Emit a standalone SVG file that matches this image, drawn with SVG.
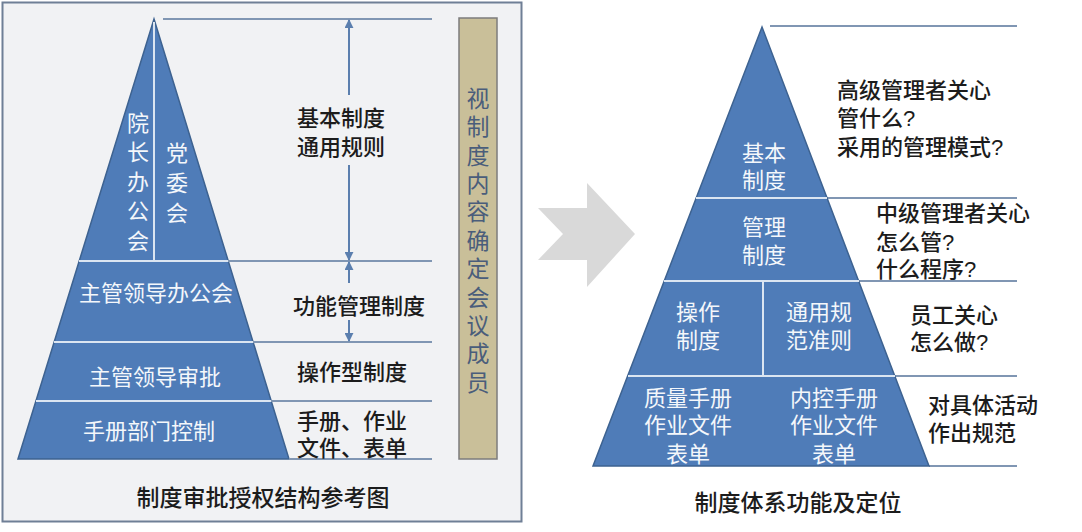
<svg xmlns="http://www.w3.org/2000/svg" width="1082" height="532" viewBox="0 0 1082 532">
<style>
.pyr{fill:#4f7cb8;stroke:#3d6290;stroke-width:1.5}
.div{stroke:#dbe5f1;stroke-width:2;fill:none}
.ln{stroke:#8096b3;stroke-width:2;fill:none}
.arr{stroke:#5b7fae;stroke-width:2;fill:none}
.t{font-family:"Liberation Sans","Noto Sans CJK SC",sans-serif;dominant-baseline:central}
.v{font-family:"Noto Sans CJK SC","Noto Sans",sans-serif;writing-mode:vertical-rl;text-orientation:upright}
.dk{fill:#1c1c1c;font-size:22px;font-weight:500}
.wh{fill:#f4f7fb;font-size:22px}
.ti{fill:#1c1c1c;font-size:23px;font-weight:500}
.tan{fill:#4a5d7b;font-size:23px}
</style>
<defs>
<marker id="ah" viewBox="0 0 10 10" refX="9" refY="5" markerWidth="9" markerHeight="9" markerUnits="userSpaceOnUse" orient="auto">
<path d="M0,0 L10,5 L0,10 z" fill="#5b7fae"/>
</marker>
</defs>
<rect width="1082" height="532" fill="#ffffff"/>
<rect id="left-panel" x="2.5" y="2.5" width="519" height="519" fill="#f1f2f4" stroke="#6f7f96" stroke-width="2"/>

<g id="left-pyramid">
<polygon class="pyr" points="154,19 289,459 18,459"/>
<line class="div" x1="79" y1="261" x2="228" y2="261"/>
<line class="div" x1="54" y1="342" x2="253" y2="342"/>
<line class="div" x1="36" y1="401" x2="271" y2="401"/>
<line class="div" x1="154" y1="22" x2="154" y2="261"/>
</g>
<g id="node-yuanzhang">
<text class="v wh" x="138" y="111.5" font-size="23" letter-spacing="7.5">院长办公会</text>
</g>
<g id="node-dangwei">
<text class="v wh" x="177" y="141.5" font-size="23" letter-spacing="8">党委会</text>
</g>
<g id="node-zhuguan-office"><text class="t wh" x="156" y="293" text-anchor="middle">主管领导办公会</text></g>
<g id="node-zhuguan-approve"><text class="t wh" x="155" y="377" text-anchor="middle" font-size="24">主管领导审批</text></g>
<g id="node-manual"><text class="t wh" x="149" y="431" text-anchor="middle" font-size="24">手册部门控制</text></g>

<g id="connectors">
<line class="ln" x1="163" y1="19" x2="432" y2="19"/>
<line class="ln" x1="228" y1="261" x2="432" y2="261"/>
<line class="ln" x1="253" y1="342" x2="432" y2="342"/>
<line class="ln" x1="271" y1="401" x2="432" y2="401"/>
<line class="ln" x1="289" y1="459" x2="432" y2="459"/>
<line class="arr" x1="349" y1="95" x2="349" y2="20" marker-end="url(#ah)"/>
<line class="arr" x1="349" y1="165" x2="349" y2="260" marker-end="url(#ah)"/>
<line class="arr" x1="349" y1="283" x2="349" y2="262" marker-end="url(#ah)"/>
<line class="arr" x1="349" y1="320" x2="349" y2="341" marker-end="url(#ah)"/>
<line class="ln" x1="770" y1="26" x2="1017" y2="26"/>
<line class="ln" x1="827" y1="198" x2="1017" y2="198"/>
<line class="ln" x1="859" y1="281" x2="1017" y2="281"/>
<line class="ln" x1="895" y1="376" x2="1017" y2="376"/>
<line class="ln" x1="929" y1="466" x2="1017" y2="466"/>
</g>

<g id="label-basic">
<text class="t dk" x="297" y="118">基本制度</text>
<text class="t dk" x="297" y="147">通用规则</text>
</g>
<g id="label-function"><text class="t dk" x="293" y="306">功能管理制度</text></g>
<g id="label-operate"><text class="t dk" x="297" y="372">操作型制度</text></g>
<g id="label-manual">
<text class="t dk" x="297" y="421">手册、作业</text>
<text class="t dk" x="297" y="448">文件、表单</text>
</g>

<g id="node-committee">
<rect x="459" y="18" width="38" height="441" fill="#c9bf99" stroke="#7c7c7c" stroke-width="1.5"/>
<text class="v tan" x="478" y="86.5" letter-spacing="5.4">视制度内容确定会议成员</text>
</g>
<g id="title-left"><text class="t ti" x="263" y="498" text-anchor="middle" font-size="24">制度审批授权结构参考图</text></g>

<g id="arrow-chevron">
<polygon points="538,208 587,208 587,183 635,234 587,287 587,260 538,260 563,234" fill="#d9d9d9"/>
</g>

<g id="right-pyramid">
<polygon class="pyr" points="762,27 929,466 593,466"/>
<line class="div" x1="696" y1="198" x2="827" y2="198"/>
<line class="div" x1="664" y1="281" x2="859" y2="281"/>
<line class="div" x1="628" y1="376" x2="895" y2="376"/>
<line class="div" x1="763" y1="281" x2="763" y2="376"/>
</g>
<g id="node-basic">
<text class="t wh" x="764" y="153" text-anchor="middle" font-size="23">基本</text>
<text class="t wh" x="764" y="180" text-anchor="middle" font-size="23">制度</text>
</g>
<g id="node-mgmt">
<text class="t wh" x="764" y="227" text-anchor="middle" font-size="23">管理</text>
<text class="t wh" x="764" y="255" text-anchor="middle" font-size="23">制度</text>
</g>
<g id="node-op">
<text class="t wh" x="698" y="312" text-anchor="middle" font-size="23">操作</text>
<text class="t wh" x="698" y="340" text-anchor="middle" font-size="23">制度</text>
</g>
<g id="node-general">
<text class="t wh" x="819" y="312" text-anchor="middle" font-size="23">通用规</text>
<text class="t wh" x="819" y="340" text-anchor="middle" font-size="23">范准则</text>
</g>
<g id="node-quality">
<text class="t wh" x="688" y="398" text-anchor="middle" font-size="23">质量手册</text>
<text class="t wh" x="688" y="425" text-anchor="middle" font-size="23">作业文件</text>
<text class="t wh" x="688" y="454" text-anchor="middle" font-size="23">表单</text>
</g>
<g id="node-control">
<text class="t wh" x="834" y="398" text-anchor="middle" font-size="23">内控手册</text>
<text class="t wh" x="834" y="425" text-anchor="middle" font-size="23">作业文件</text>
<text class="t wh" x="834" y="454" text-anchor="middle" font-size="23">表单</text>
</g>

<g id="label-senior">
<text class="t dk" x="837" y="90">高级管理者关心</text>
<text class="t dk" x="837" y="118">管什么?</text>
<text class="t dk" x="837" y="147">采用的管理模式?</text>
</g>
<g id="label-middle">
<text class="t dk" x="876" y="213">中级管理者关心</text>
<text class="t dk" x="876" y="242">怎么管?</text>
<text class="t dk" x="876" y="269">什么程序?</text>
</g>
<g id="label-staff">
<text class="t dk" x="910" y="315">员工关心</text>
<text class="t dk" x="910" y="342">怎么做?</text>
</g>
<g id="label-activity">
<text class="t dk" x="928" y="405">对具体活动</text>
<text class="t dk" x="928" y="433">作出规范</text>
</g>
<g id="title-right"><text class="t ti" x="798" y="503" text-anchor="middle" font-size="24">制度体系功能及定位</text></g>
</svg>
